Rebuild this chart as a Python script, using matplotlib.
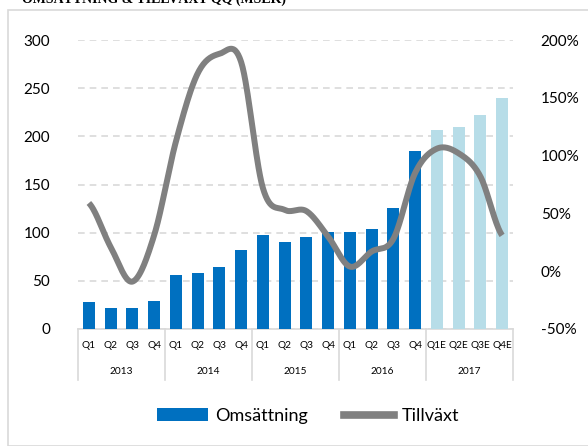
import numpy as np
import matplotlib
matplotlib.use("Agg")
import matplotlib.pyplot as plt
from matplotlib.lines import Line2D
from matplotlib.patches import Rectangle, Patch

# ---- data ----
quarters = ["Q1", "Q2", "Q3", "Q4"] * 4 + ["Q1E", "Q2E", "Q3E", "Q4E"]
years = ["2013", "2014", "2015", "2016", "2017"]
omsattning = [28, 22, 22, 29, 56, 58, 64, 82, 98, 90, 96, 101,
              101, 104, 126, 185, 207, 210, 222, 240]
tillvaxt = [59, 21, -9, 31, 112, 171, 188, 181, 72, 53, 52, 30,
            4, 17, 28, 85, 106, 102, 82, 31]
estimate_flags = [False] * 16 + [True] * 4

W, H = 588, 446
fig = plt.figure(figsize=(W / 100, H / 100), dpi=100)
FONT = "Lato"

# outer frame
fig.patches.append(Rectangle((8 / W, 0), 1.2, (H - 10) / H, transform=fig.transFigure,
                             fill=False, edgecolor="#D9D9D9", linewidth=1.2))
# title (clipped at the top edge, as in the reference)
fig.text(22 / W, 1 - 2.5 / H, "OMSÄTTNING & TILLVÄXT QQ (MSEK)", family="Liberation Serif",
         fontweight="bold", fontsize=10, va="baseline", ha="left", color="#000000")

x0, x1, ytop, ybot = 78, 513, 40, 329
ax = fig.add_axes([x0 / W, 1 - ybot / H, (x1 - x0) / W, (ybot - ytop) / H])
ax2 = ax.twinx()
ax.set_zorder(1)
ax2.set_zorder(2)
ax.patch.set_visible(False)
ax2.patch.set_visible(False)

x = np.arange(len(omsattning))
colors = ["#B7DDE8" if e else "#0070C0" for e in estimate_flags]
ax.bar(x, omsattning, width=0.55, color=colors, zorder=3)
ax.set_xlim(-0.5, len(x) - 0.5)
ax.set_ylim(0, 300)
ax.set_yticks(range(0, 301, 50))
ax.yaxis.grid(True, color="#D9D9D9", linestyle=(0, (4, 3)), linewidth=1.2)
ax.set_axisbelow(True)

# smoothed line (Catmull-Rom through data points)
def catmull(xs, ys, n=30):
    xs = np.asarray(xs, float); ys = np.asarray(ys, float)
    px = np.concatenate([[2 * xs[0] - xs[1]], xs, [2 * xs[-1] - xs[-2]]])
    py = np.concatenate([[ys[0]], ys, [ys[-1]]])
    ox, oy = [], []
    for i in range(1, len(px) - 2):
        t = np.linspace(0, 1, n, endpoint=False)
        for arr, out in ((px, ox), (py, oy)):
            p0, p1, p2, p3 = arr[i - 1], arr[i], arr[i + 1], arr[i + 2]
            m1 = (p2 - p0) / 2; m2 = (p3 - p1) / 2
            h00 = 2 * t**3 - 3 * t**2 + 1; h10 = t**3 - 2 * t**2 + t
            h01 = -2 * t**3 + 3 * t**2; h11 = t**3 - t**2
            out.extend(h00 * p1 + h10 * m1 + h01 * p2 + h11 * m2)
    ox.append(xs[-1]); oy.append(ys[-1])
    return np.array(ox), np.array(oy)

sx, sy = catmull(x, tillvaxt)
ax2.plot(sx, sy, color="#808080", linewidth=4.3, solid_capstyle="butt", zorder=4)
ax2.set_ylim(-50, 200)
ax2.set_yticks(range(-50, 201, 50))
ax2.set_yticklabels([f"{v}%" for v in range(-50, 201, 50)])

for a in (ax, ax2):
    for s in a.spines.values():
        s.set_visible(False)
    a.tick_params(length=0, labelsize=11, colors="#000000")
    for lab in a.get_yticklabels():
        lab.set_family(FONT)
ax.tick_params(axis="y", pad=20)
ax2.tick_params(axis="y", pad=20)

ax.set_xticks(x)
ax.set_xticklabels(quarters, fontsize=7.3, family=FONT)
ax.tick_params(axis="x", pad=9)

# category axis box
lc = "#D9D9D9"
ax.add_line(Line2D([-0.5, len(x) - 0.5], [0, 0], color=lc, lw=1.2, clip_on=False,
                   transform=ax.transData))
trans = ax.get_xaxis_transform()
bottom = -(380 - ybot) / (ybot - ytop)
for b in range(6):
    xb = -0.5 + 4 * b
    ax.add_line(Line2D([xb, xb], [0, bottom], color=lc, lw=1.2, clip_on=False, transform=trans))
for i, yr in enumerate(years):
    ax.text(1.5 + 4 * i, -(372 - ybot) / (ybot - ytop), yr, transform=trans, ha="center",
            va="center", fontsize=7.3, family=FONT)

# legend
handles = [Patch(facecolor="#0070C0", edgecolor="none", label="Omsättning"),
           Line2D([], [], color="#808080", lw=5.5, label="Tillväxt")]
fig.legend(handles=handles, loc="center", bbox_to_anchor=(308 / W, 1 - 416 / H), ncol=2,
           frameon=False, prop={"family": FONT, "size": 13}, handlelength=2.8,
           handleheight=0.7, columnspacing=2.0, handletextpad=0.4)

fig.savefig("out.png", dpi=100)
